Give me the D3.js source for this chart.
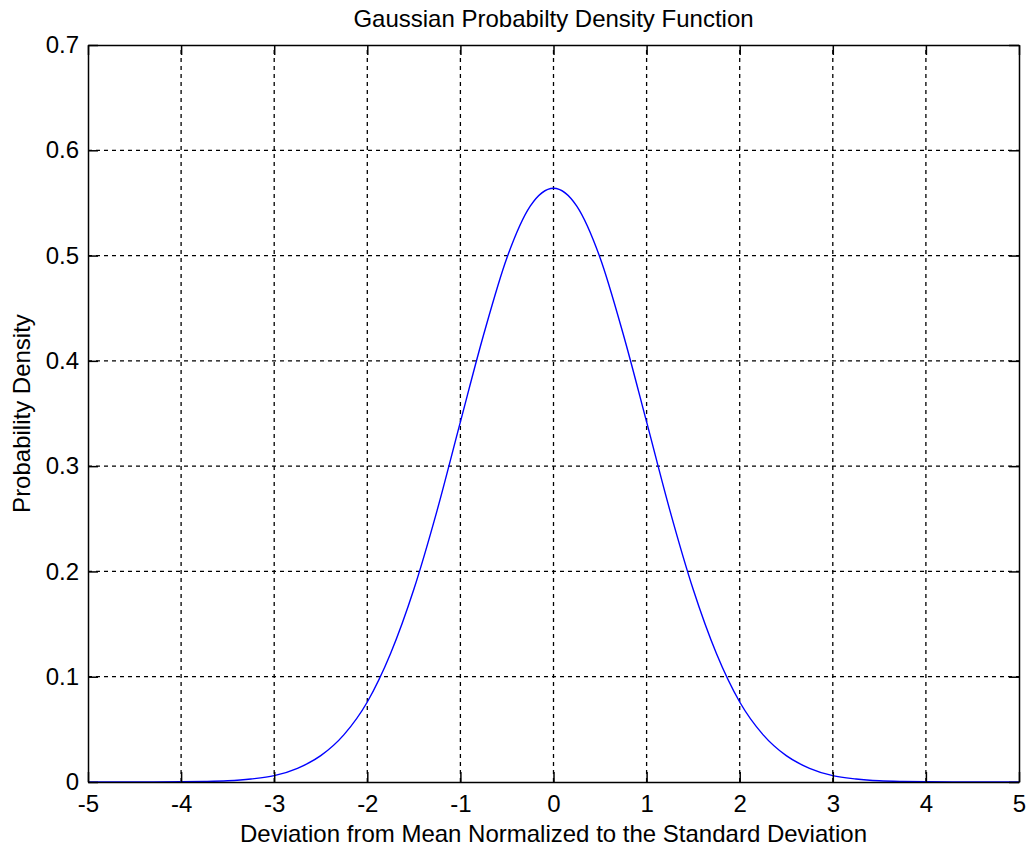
<!DOCTYPE html>
<html>
<head>
<meta charset="utf-8">
<script src="https://cdn.jsdelivr.net/npm/d3@7"></script>
<style>
  body { margin: 0; background: #fff; }
  text { font-family: Arial, "Liberation Sans", sans-serif; fill: #000; }
</style>
</head>
<body>
<div id="chart"></div>
<script>
// values
const xValues = [-5, -4.5, -4, -3.75, -3.5, -3.25, -3, -2.75, -2.5, -2.25, -2, -1.75, -1.5, -1.25, -1, -0.75, -0.5, -0.25,
  0, 0.25, 0.5, 0.75, 1, 1.25, 1.5, 1.75, 2, 2.25, 2.5, 2.75, 3, 3.25, 3.5, 3.75, 4, 4.5, 5];
const densityValues = [0, 0.00002, 0.0002, 0.0005, 0.0012, 0.0029, 0.006, 0.013, 0.025, 0.045, 0.076, 0.122, 0.183, 0.258, 0.342, 0.425, 0.498, 0.547,
  0.564, 0.547, 0.498, 0.425, 0.342, 0.258, 0.183, 0.122, 0.076, 0.045, 0.025, 0.013, 0.006, 0.0029, 0.0012, 0.0005, 0.0002, 0.00002, 0];
const xTicks = [-5, -4, -3, -2, -1, 0, 1, 2, 3, 4, 5];
const yTicks = [0, 0.1, 0.2, 0.3, 0.4, 0.5, 0.6, 0.7];

const width = 1026, height = 848;
const margin = { top: 45, right: 7, bottom: 66, left: 88 };

const svg = d3.select("#chart").append("svg")
  .attr("width", width)
  .attr("height", height);

const x = d3.scaleLinear().domain([-5, 5]).range([margin.left, width - margin.right]);
const y = d3.scaleLinear().domain([0, 0.7]).range([height - margin.bottom, margin.top]);

// grid
svg.append("g").selectAll("line")
  .data(xTicks.slice(1, -1))
  .enter().append("line")
  .attr("x1", d => x(d)).attr("x2", d => x(d))
  .attr("y1", y(0)).attr("y2", y(0.7))
  .attr("stroke", "#000").attr("stroke-width", 1.3)
  .attr("stroke-dasharray", "4,4");

svg.append("g").selectAll("line")
  .data(yTicks.slice(1, -1))
  .enter().append("line")
  .attr("x1", x(-5)).attr("x2", x(5))
  .attr("y1", d => y(d)).attr("y2", d => y(d))
  .attr("stroke", "#000").attr("stroke-width", 1.3)
  .attr("stroke-dasharray", "4,4");

// curve
const line = d3.line()
  .x((d, i) => x(xValues[i]))
  .y(d => y(d))
  .curve(d3.curveMonotoneX);

svg.append("path")
  .datum(densityValues)
  .attr("fill", "none")
  .attr("stroke", "#0000ff")
  .attr("stroke-width", 1.4)
  .attr("d", line);

// axes, MATLAB style ticks pointing inward
const fmt = d => d === 0 ? "0" : String(d);
const xAxisB = d3.axisBottom(x).tickValues(xTicks).tickSizeInner(-10).tickSizeOuter(0).tickPadding(13).tickFormat(fmt);
const xAxisT = d3.axisTop(x).tickValues(xTicks).tickSizeInner(-10).tickSizeOuter(0).tickFormat("");
const yAxisL = d3.axisLeft(y).tickValues(yTicks).tickSizeInner(-10).tickSizeOuter(0).tickPadding(9).tickFormat(fmt);
const yAxisR = d3.axisRight(y).tickValues(yTicks).tickSizeInner(-10).tickSizeOuter(0).tickFormat("");

const styleAxis = g => {
  g.select(".domain").attr("stroke", "#000").attr("stroke-width", 1.5);
  g.selectAll(".tick line").attr("stroke", "#000").attr("stroke-width", 1.5);
  g.selectAll(".tick text").attr("font-size", 24).attr("fill", "#000");
};

svg.append("g").attr("transform", `translate(0,${y(0)})`).call(xAxisB).call(styleAxis);
svg.append("g").attr("transform", `translate(0,${y(0.7)})`).call(xAxisT).call(styleAxis);
svg.append("g").attr("transform", `translate(${x(-5)},0)`).call(yAxisL).call(styleAxis);
svg.append("g").attr("transform", `translate(${x(5)},0)`).call(yAxisR).call(styleAxis);

// labels
svg.append("text")
  .attr("x", (x(-5) + x(5)) / 2).attr("y", 27)
  .attr("text-anchor", "middle").attr("font-size", 24)
  .text("Gaussian Probabilty Density Function");

svg.append("text")
  .attr("x", (x(-5) + x(5)) / 2).attr("y", 842)
  .attr("text-anchor", "middle").attr("font-size", 24)
  .text("Deviation from Mean Normalized to the Standard Deviation");

svg.append("text")
  .attr("transform", `translate(30,${(y(0) + y(0.7)) / 2}) rotate(-90)`)
  .attr("text-anchor", "middle").attr("font-size", 24)
  .text("Probability Density");
</script>
</body>
</html>
